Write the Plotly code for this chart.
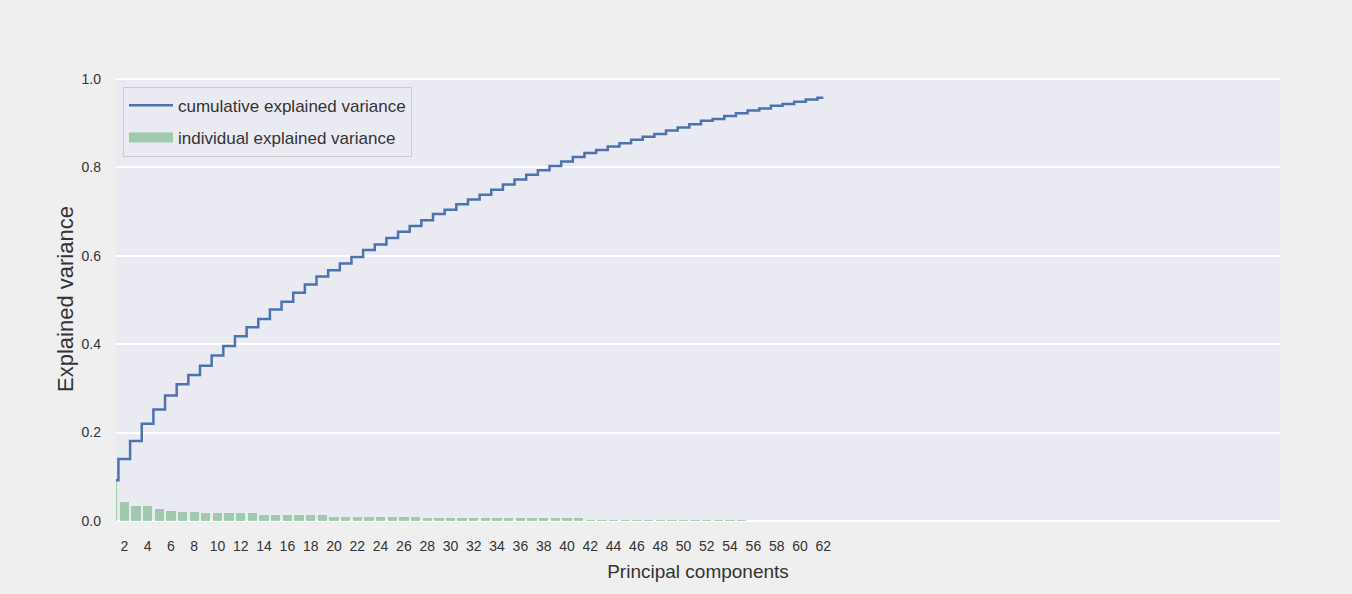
import plotly.graph_objects as go

# Principal component index (1..62)
components = list(range(1, 63))

# Share of variance explained by each component
individual_variance = (
    [0.092, 0.042, 0.035, 0.035, 0.027, 0.023, 0.020, 0.020]
    + [0.017] * 5
    + [0.0135] * 6
    + [0.009] * 8
    + [0.006] * 14
    + [0.003] * 14
    + [0.001] * 7
)

# Running total of explained variance
cumulative_variance = [
    0.092, 0.140, 0.181, 0.220, 0.252, 0.284, 0.309, 0.330, 0.351, 0.374,
    0.396, 0.418, 0.438, 0.457, 0.478, 0.496, 0.516, 0.535, 0.553, 0.567,
    0.582, 0.597, 0.613, 0.625, 0.640, 0.654, 0.667, 0.680, 0.694, 0.704,
    0.716, 0.727, 0.738, 0.749, 0.761, 0.772, 0.783, 0.793, 0.803, 0.813,
    0.823, 0.832, 0.839, 0.847, 0.854, 0.862, 0.869, 0.875, 0.883, 0.890,
    0.897, 0.905, 0.909, 0.916, 0.922, 0.928, 0.933, 0.939, 0.943, 0.948,
    0.953, 0.957,
]

x_ticks = list(range(2, 63, 2))
y_ticks = [0.0, 0.2, 0.4, 0.6, 0.8, 1.0]

BLUE = "#4C72B0"
GREEN_FILL = "rgba(85,168,104,0.5)"
FONT = "Liberation Sans, Arial, sans-serif"
TEXT = "#333333"

fig = go.Figure()

fig.add_trace(go.Bar(
    x=components, y=individual_variance, width=0.8,
    marker=dict(color=GREEN_FILL, line=dict(width=0)),
    showlegend=False, hoverinfo="x+y",
))

fig.add_trace(go.Scatter(
    x=components, y=cumulative_variance, mode="lines",
    line=dict(color=BLUE, width=2.5, shape="hvh"),
    name="cumulative explained variance", legendgroup="a",
))

# legend-only entry giving the bar series a wide patch swatch
fig.add_trace(go.Scatter(
    x=[None], y=[None], mode="lines",
    line=dict(color=GREEN_FILL, width=12),
    name="individual explained variance", legendgroup="b",
))

fig.update_layout(
    width=1352, height=594,
    margin=dict(l=116, r=72, t=77, b=73),
    paper_bgcolor="#efefef",
    plot_bgcolor="#EAEAF2",
    bargap=0,
    font=dict(family=FONT, color=TEXT, size=14),
    legend=dict(
        x=0.006, y=0.978, xanchor="left", yanchor="top",
        bgcolor="rgba(234,234,242,0.8)", bordercolor="#cccccc", borderwidth=1,
        font=dict(family=FONT, size=17, color=TEXT),
        tracegroupgap=7, itemwidth=44,
    ),
    xaxis=dict(
        range=[1.29, 101.2], tickvals=x_ticks, ticktext=[str(v) for v in x_ticks],
        showgrid=False, zeroline=False, showline=False,
        ticks="", ticklabelstandoff=15,
        tickfont=dict(family=FONT, size=14, color=TEXT),
        title=dict(text="Principal components", standoff=11,
                   font=dict(family=FONT, size=19, color=TEXT)),
    ),
    yaxis=dict(
        range=[0, 1.004], tickvals=y_ticks, tickformat=".1f",
        showgrid=True, gridcolor="white", gridwidth=1.6,
        zeroline=True, zerolinecolor="white", zerolinewidth=1.6,
        showline=False, ticks="", ticklabelstandoff=14,
        tickfont=dict(family=FONT, size=14, color=TEXT),
        title=dict(text="Explained variance", standoff=1,
                   font=dict(family=FONT, size=22, color=TEXT)),
    ),
)

fig.write_html("out.html")
